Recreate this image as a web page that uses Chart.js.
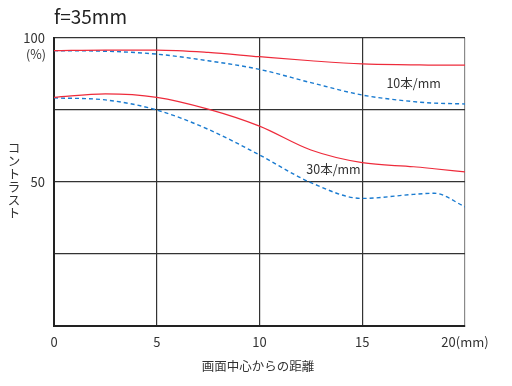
<!DOCTYPE html>
<html><head><meta charset="utf-8">
<script src="https://cdn.jsdelivr.net/npm/chart.js@4"></script>
<style>html,body{margin:0;padding:0;background:#fff}#wrap{width:512px;height:386px}</style>
</head><body><div id="wrap"><canvas id="c" width="512" height="386"></canvas></div>
<script>
const distances = [0, 2.5, 5, 7.5, 10, 12.5, 15, 17.5, 18.5, 20];
const sagittal10 = [95.6, 95.8, 95.8, 95.0, 93.5, 92.1, 91.0, 90.7, 90.6, 90.6];
const meridional10 = [95.6, 95.4, 94.4, 92.1, 89.1, 84.5, 80.2, 77.9, 77.4, 77.1];
const sagittal30 = [79.4, 80.6, 79.4, 75.3, 69.4, 61.1, 56.7, 55.3, 54.6, 53.5];
const meridional30 = [79.2, 78.5, 75.0, 68.3, 59.4, 49.8, 44.3, 45.7, 46.1, 41.4];
const yTicks = [0, 25, 50, 75, 100];
const yLabelled = {100: '100', 50: '50'};
const xTicks = [0, 5, 10, 15, 20];
const titleText = 'f=35mm';
const xTitle = '画面中心からの距離';
const yTitle = 'コントラスト';
const notes = [{text: '10本/mm', x: 17.5, y: 84.4}, {text: '30本/mm', x: 13.6, y: 54.5}];

const FONT = '"Noto Sans CJK JP", "Noto Sans", sans-serif';
const pts = arr => distances.map((d, i) => ({x: d, y: arr[i]}));
const RED = '#ee2b3b', BLUE = '#1a7bd0';

const extras = {
  id: 'extras',
  afterDraw(chart) {
    const ctx = chart.ctx, xs = chart.scales.x, ys = chart.scales.y;
    ctx.save();
    ctx.fillStyle = '#222';
    ctx.font = '19px ' + FONT;
    ctx.textAlign = 'left'; ctx.textBaseline = 'middle';
    ctx.fillText(titleText, 54, 17);
    ctx.font = '12.5px ' + FONT;
    ctx.fillStyle = '#333';
    ctx.textAlign = 'right';
    ctx.fillText('(%)', 46, ys.getPixelForValue(100) + 16);
    ctx.textAlign = 'center';
    ctx.fillText(xTitle, 258, 366);
    const chars = Array.from(yTitle);
    chars.forEach((ch, i) => ctx.fillText(ch, 14, 148 + i * 13));
    notes.forEach(n => ctx.fillText(n.text, xs.getPixelForValue(n.x), ys.getPixelForValue(n.y)));
    ctx.restore();
  }
};

new Chart(document.getElementById('c'), {
  type: 'line',
  data: {
    datasets: [
      {data: pts(sagittal10), borderColor: RED, borderWidth: 1.2, pointRadius: 0, cubicInterpolationMode: 'monotone'},
      {data: pts(meridional10), borderColor: BLUE, borderWidth: 1.4, borderDash: [4, 3], pointRadius: 0, cubicInterpolationMode: 'monotone'},
      {data: pts(sagittal30), borderColor: RED, borderWidth: 1.2, pointRadius: 0, cubicInterpolationMode: 'monotone'},
      {data: pts(meridional30), borderColor: BLUE, borderWidth: 1.4, borderDash: [4, 3], pointRadius: 0, cubicInterpolationMode: 'monotone'}
    ]
  },
  options: {
    responsive: false, animation: false, devicePixelRatio: 1,
    layout: {padding: {left: 0, right: 47, top: 38, bottom: 0}},
    plugins: {legend: {display: false}, tooltip: {enabled: false}},
    scales: {
      x: {
        type: 'linear', min: 0, max: 20,
        afterBuildTicks: s => { s.ticks = xTicks.map(v => ({value: v})); },
        afterFit: s => { s.height = 60; },
        grid: {color: ctx => (ctx.tick && ctx.tick.value === 20) ? '#8a8a8a' : '#333', lineWidth: 1.2, drawTicks: false},
        border: {color: '#222', width: 2},
        ticks: {color: '#333', font: {family: FONT, size: 13}, padding: 8,
          callback: v => v === 20 ? '20(mm)' : String(v)}
      },
      y: {
        min: 0, max: 100,
        afterBuildTicks: s => { s.ticks = yTicks.map(v => ({value: v})); },
        afterFit: s => { s.width = 54; },
        grid: {color: '#333', lineWidth: 1.2, drawTicks: false},
        border: {color: '#222', width: 2},
        ticks: {color: '#333', font: {family: FONT, size: 13}, padding: 9,
          callback: v => yLabelled[v] || ''}
      }
    }
  },
  plugins: [extras]
});
</script></body></html>
